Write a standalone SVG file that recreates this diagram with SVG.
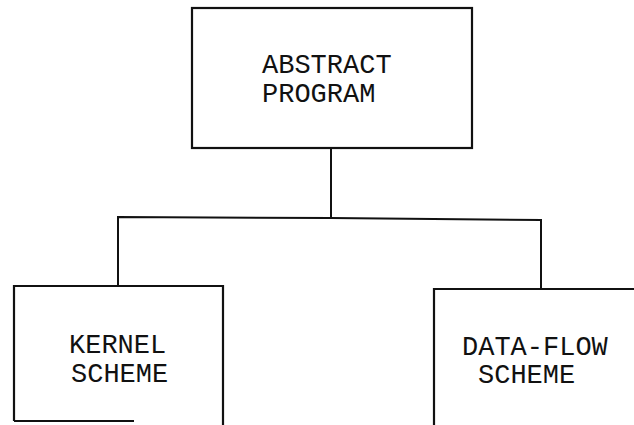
<svg xmlns="http://www.w3.org/2000/svg" width="634" height="425" viewBox="0 0 634 425">
  <style>
    .box { fill: none; stroke: #111; stroke-width: 2.2; }
    .wire { fill: none; stroke: #111; stroke-width: 2; }
    .lbl { font-family: "Liberation Mono", "DejaVu Sans Mono", monospace; font-size: 27px; fill: #111; }
  </style>
  <rect width="634" height="425" fill="#fff"/>

  <!-- connectors -->
  <g id="connectors">
    <path class="wire" d="M331 148 V218"/>
    <path class="wire" d="M118 286 V217 L331 218 L541 220 V289"/>
  </g>

  <g id="abstract-program">
    <rect class="box" x="192" y="8" width="280" height="140"/>
    <text class="lbl" x="262" y="73">ABSTRACT</text>
    <text class="lbl" x="262" y="102">PROGRAM</text>
  </g>

  <g id="kernel-scheme">
    <path class="box" d="M14 421 V286 H223 V425"/>
    <path class="box" d="M14 421 H134"/>
    <text class="lbl" x="69" y="353">KERNEL</text>
    <text class="lbl" x="71" y="382">SCHEME</text>
  </g>

  <g id="data-flow-scheme">
    <path class="box" d="M434 425 V289 H634"/>
    <text class="lbl" x="462" y="355">DATA-FLOW</text>
    <text class="lbl" x="478" y="383">SCHEME</text>
  </g>
</svg>
